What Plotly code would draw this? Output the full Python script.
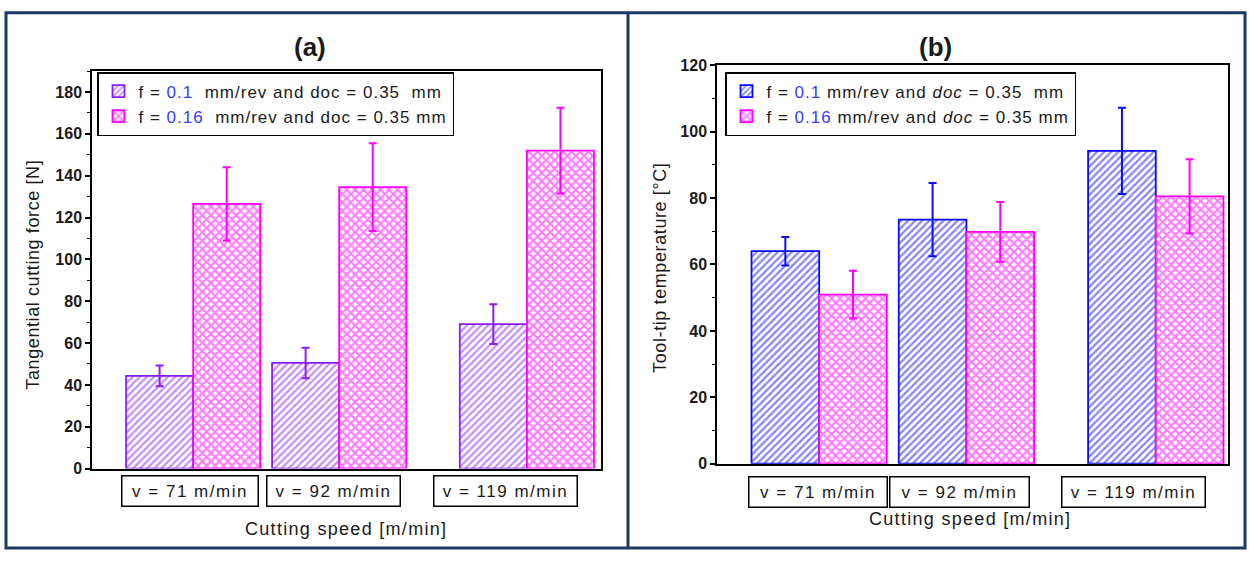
import plotly.graph_objects as go

# ---------------- data ----------------
speeds = [71, 92, 119]
speed_labels = ["v = 71 m/min", "v = 92 m/min", "v = 119 m/min"]

force_f01 = [44.3, 50.5, 69.0]
force_f01_err = [5.0, 7.3, 9.5]
force_f016 = [126.5, 134.5, 152.0]
force_f016_err = [17.5, 21.0, 20.5]

temp_f01 = [64.0, 73.5, 94.2]
temp_f01_err = [4.3, 11.0, 13.0]
temp_f016 = [50.9, 69.8, 80.5]
temp_f016_err = [7.2, 9.0, 11.2]

# ---------------- styles ----------------
W, H = 1249, 561
FONT = "Liberation Sans, Arial, sans-serif"
TXT = "#1a1a1a"
PURPLE = "#8a1cff"
BLUE = "#0a0aff"
PINK = "#ff00ff"
NAVY = "#1f3864"
BW = 9.65  # bar width in speed units


def px(x):
    return x / W


def py(y):
    return 1 - y / H


def ls(t, sp):
    return f"<span style='letter-spacing:{sp}px'>{t}</span>"


fig = go.Figure()


def add_bars(xa, ya, v1, e1, c1, v2, e2, name1, name2, legend):
    fig.add_trace(go.Bar(
        x=speeds, y=v1, width=BW, offset=-BW, xaxis=xa, yaxis=ya,
        name=name1, legend=legend,
        marker=dict(color="white", line=dict(color=c1, width=1.8),
                    pattern=dict(shape="/", fgcolor=c1, bgcolor="white",
                                 size=5, solidity=0.45, fillmode="overlay")),
        error_y=dict(type="data", array=e1, color=c1, thickness=2, width=4),
    ))
    fig.add_trace(go.Bar(
        x=speeds, y=v2, width=BW, offset=0, xaxis=xa, yaxis=ya,
        name=name2, legend=legend,
        marker=dict(color="white", line=dict(color=PINK, width=1.8),
                    pattern=dict(shape="x", fgcolor=PINK, bgcolor="white",
                                 size=6, solidity=0.6, fillmode="overlay")),
        error_y=dict(type="data", array=e2, color=PINK, thickness=2, width=4),
    ))


num = "<span style='color:#3a3aff'>{}</span>"
add_bars("x", "y", force_f01, force_f01_err, PURPLE, force_f016, force_f016_err,
         ls("f = " + num.format("0.1") + "  mm/rev and doc = 0.35  mm", 1),
         ls("f = " + num.format("0.16") + "  mm/rev and doc = 0.35 mm", 1), "legend")
add_bars("x2", "y2", temp_f01, temp_f01_err, BLUE, temp_f016, temp_f016_err,
         ls("f = " + num.format("0.1") + " mm/rev and <i>doc</i> = 0.35  mm", 1),
         ls("f = " + num.format("0.16") + " mm/rev and <i>doc</i> = 0.35 mm", 1), "legend2")

yax_common = dict(
    showline=True, linecolor="black", linewidth=1.5, mirror=True,
    ticks="outside", ticklen=5, tickwidth=1.5, tickcolor="black",
    minor=dict(ticks="outside", ticklen=3, tickwidth=1, tickcolor="black", dtick=10),
    showgrid=False, zeroline=False, dtick=20,
    tickfont=dict(family=FONT, size=16, color=TXT, weight="bold"),
)
xax_common = dict(
    showline=True, linecolor="black", linewidth=1.5, mirror=True,
    ticks="", showticklabels=False, showgrid=False, zeroline=False,
)

leg_common = dict(xanchor="left", yanchor="top", bgcolor="white",
                  bordercolor="black", borderwidth=1.5,
                  font=dict(family=FONT, size=17, color=TXT), tracegroupgap=0)

fig.update_layout(
    width=W, height=H, margin=dict(l=0, r=0, t=0, b=0),
    paper_bgcolor="white", plot_bgcolor="white",
    barmode="overlay",
    xaxis=dict(domain=[px(92), px(601)], range=[56.45, 129.66], anchor="y", **xax_common),
    yaxis=dict(domain=[py(475), py(65)], range=[0, 190], anchor="x", **yax_common),
    xaxis2=dict(domain=[px(717), px(1228)], range=[56.43, 129.3], anchor="y2", **xax_common),
    yaxis2=dict(domain=[py(470), py(59)], range=[0, 120], anchor="x2", **yax_common),
    legend=dict(x=px(97), y=py(66), **leg_common),
    legend2=dict(x=px(725), y=py(66), **leg_common),
    showlegend=True,
)

# category boxes (replace x tick labels)
box_a = [(190.5, 139), (333, 136), (505, 146)]
box_b = [(817.5, 141), (959, 142), (1133, 146)]
for boxes, yc in ((box_a, 498), (box_b, 499)):
    for (cx, w), lab in zip(boxes, speed_labels):
        fig.add_annotation(xref="paper", yref="paper", x=px(cx), y=py(yc),
                           xanchor="center", yanchor="middle", text=ls(lab, 1.5),
                           showarrow=False, width=w - 6, height=27, borderwidth=1.5,
                           bordercolor="black", bgcolor="white",
                           font=dict(family=FONT, size=17, color=TXT))

# titles and axis titles
texts = [
    (310, 40, "(a)", 0, 26, "bold"),
    (935, 40, "(b)", 0, 26, "bold"),
    (346, 537, ls("Cutting speed [m/min]", 1.3), 0, 18, "normal"),
    (970, 527, ls("Cutting speed [m/min]", 1.3), 0, 18, "normal"),
    (33, 275, ls("Tangential cutting force [N]", 0.6), -90, 18, "normal"),
    (660, 268, ls("Tool-tip temperature [°C]", 0.6), -90, 18, "normal"),
]
for x, y, t, ang, sz, wt in texts:
    fig.add_annotation(xref="paper", yref="paper", x=px(x), y=py(y),
                       xanchor="center", yanchor="middle", text=t,
                       textangle=ang, showarrow=False,
                       font=dict(family=FONT, size=sz, color=TXT, weight=wt))

# outer navy frame and divider
fig.add_shape(type="rect", xref="paper", yref="paper",
              x0=px(6), x1=px(1245), y0=py(557), y1=py(5),
              line=dict(color=NAVY, width=3))
fig.add_shape(type="line", xref="paper", yref="paper",
              x0=px(628), x1=px(628), y0=py(557), y1=py(5),
              line=dict(color=NAVY, width=3))

fig.write_html("out.html")
